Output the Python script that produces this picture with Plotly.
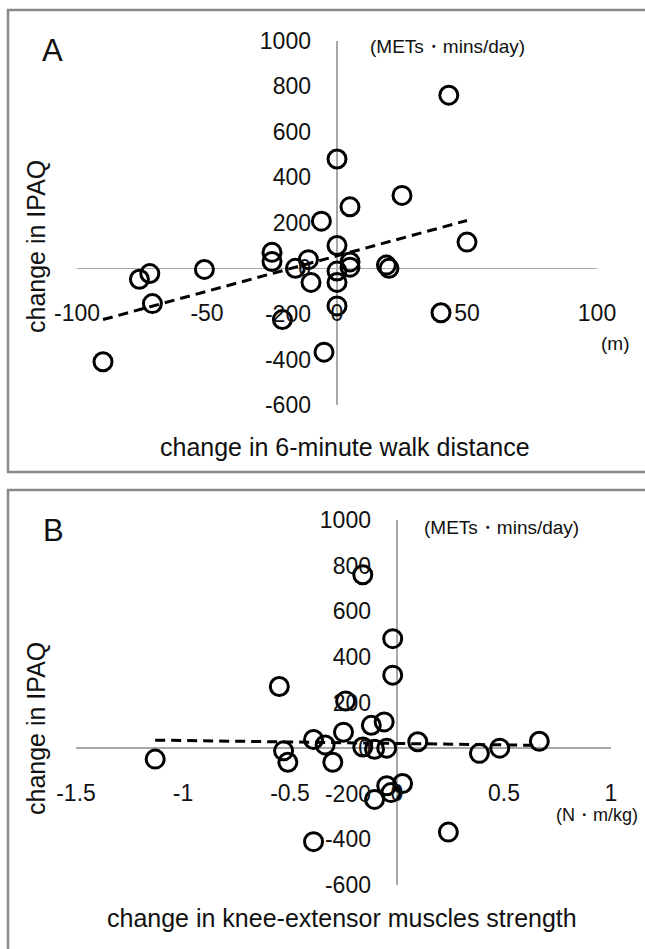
import plotly.graph_objects as go

W, H = 645, 949

# ---------- data ----------
# Panel A: change in 6-minute walk distance (m) vs change in IPAQ
walk_change = [43, 0, 5, 25, -6, 0, -25, -25, -11, -16, -10, 0, 0, 5, 5, 19, 20,
               0, -21, 40, 50, -5, -72, -76, -51, -71, -90]
ipaq_change_a = [760, 480, 270, 320, 207, 100, 70, 30, 38, 0, -62, -12, -62, 28, 5, 14, 0,
                 -165, -225, -195, 115, -368, -23, -48, -5, -155, -410]
trend_a_x = [-90, 50]
trend_a_y = [-225, 210]

# Panel B: change in knee-extensor muscles strength (N·m/kg) vs change in IPAQ
knee_change = [-0.16, -0.02, -0.02, -0.55, -0.24, -0.06, -0.12, -0.25, -0.39, -0.336,
               0.097, 0.665, 0.48, 0.385, -0.16, -0.105, -0.048, -0.53, -0.51, -0.30,
               -1.13, -0.048, -0.028, 0.026, -0.105, 0.24, -0.39]
ipaq_change_b = [760, 480, 320, 270, 207, 115, 100, 70, 38, 14,
                 28, 30, 0, -23, 5, -5, 0, -12, -62, -62,
                 -48, -165, -195, -155, -225, -368, -410]
trend_b_x = [-1.13, 0.665]
trend_b_y = [35, 12]

y_ticks = [-600, -400, -200, 0, 200, 400, 600, 800, 1000]
y_tick_text = ["-600", "-400", "-200", "0", "200", "400", "600", "800", "1000"]
xa_ticks = [-100, -50, 0, 50, 100]
xa_tick_text = ["-100", "-50", "0", "50", "100"]
xb_ticks = [-1.5, -1, -0.5, 0, 0.5, 1]
xb_tick_text = ["-1.5", "-1", "-0.5", "0", "0.5", "1"]

# ---------- helpers (pixel -> paper) ----------
def px(x):
    return x / W

def py(y):
    return 1 - y / H

FONT = "Liberation Sans, Arial, sans-serif"
TXT = "#111111"
marker = dict(symbol="circle-open", size=18, color="black", line=dict(width=3, color="black"))
dash_line = dict(color="black", width=3, dash="10px,6px")

fig = go.Figure()
fig.add_trace(go.Scatter(x=walk_change, y=ipaq_change_a, mode="markers", marker=marker,
                         xaxis="x", yaxis="y", showlegend=False))
fig.add_trace(go.Scatter(x=trend_a_x, y=trend_a_y, mode="lines", line=dash_line,
                         xaxis="x", yaxis="y", showlegend=False))
fig.add_trace(go.Scatter(x=knee_change, y=ipaq_change_b, mode="markers", marker=marker,
                         xaxis="x2", yaxis="y2", showlegend=False))
fig.add_trace(go.Scatter(x=trend_b_x, y=trend_b_y, mode="lines", line=dash_line,
                         xaxis="x2", yaxis="y2", showlegend=False))

tickfont = dict(family=FONT, size=23, color=TXT)
zl = dict(zeroline=True, zerolinecolor="#a8a8a8", zerolinewidth=1.5,
          showgrid=False, showline=False, ticks="")

# Panel geometry (pixels)
A_x0, A_x1, A_y0, A_y1 = 77, 597, 40.5, 405
B_x0, B_x1, B_y0, B_y1 = 76, 611, 520, 885
A_zero_px = A_x0 + (0 - (-100)) / 200 * (A_x1 - A_x0)
B_zero_px = B_x0 + (0 - (-1.5)) / 2.5 * (B_x1 - B_x0)

fig.update_layout(
    width=W, height=H,
    margin=dict(l=0, r=0, t=0, b=0, pad=0, autoexpand=False),
    paper_bgcolor="white", plot_bgcolor="rgba(0,0,0,0)",
    hovermode=False,
    xaxis=dict(domain=[px(A_x0), px(A_x1)], range=[-100, 100], anchor="free",
               position=py(297), tickvals=xa_ticks, ticktext=xa_tick_text,
               tickfont=tickfont, automargin=False, **zl),
    yaxis=dict(domain=[py(A_y1), py(A_y0)], range=[-600, 1000], anchor="free",
               position=px(A_zero_px), tickvals=y_ticks, ticktext=y_tick_text,
               tickfont=tickfont, ticklabelstandoff=26, automargin=False, **zl),
    xaxis2=dict(domain=[px(B_x0), px(B_x1)], range=[-1.5, 1], anchor="free",
                position=py(777), tickvals=xb_ticks, ticktext=xb_tick_text,
                tickfont=tickfont, automargin=False, **zl),
    yaxis2=dict(domain=[py(B_y1), py(B_y0)], range=[-600, 1000], anchor="free",
                position=px(B_zero_px), tickvals=y_ticks, ticktext=y_tick_text,
                tickfont=tickfont, ticklabelstandoff=26, automargin=False, **zl),
)

border = dict(color="#8a8a8a", width=2.5)
fig.add_shape(type="rect", xref="paper", yref="paper", x0=px(8), x1=px(648),
              y0=py(472), y1=py(10), line=border, fillcolor="rgba(0,0,0,0)")
fig.add_shape(type="rect", xref="paper", yref="paper", x0=px(8), x1=px(648),
              y0=py(953), y1=py(490), line=border, fillcolor="rgba(0,0,0,0)")

def ann(text, x, y, size, angle=0, xanchor="center", weight="normal"):
    fig.add_annotation(text=text, x=px(x), y=py(y), xref="paper", yref="paper",
                       showarrow=False, xanchor=xanchor, yanchor="middle",
                       textangle=angle,
                       font=dict(family=FONT, size=size, color=TXT, weight=weight))

title_size = 25
unit_size = 19
# Panel A texts
ann("A", 52, 50, 31)
ann("(METs・mins/day)", 368, 47, unit_size, xanchor="left")
ann("(m)", 615, 343, unit_size)
ann("change in 6-minute walk distance", 345, 447, title_size)
ann("change in IPAQ", 36, 247, title_size, angle=-90)
# Panel B texts
ann("B", 53, 530, 31)
ann("(METs・mins/day)", 422, 527, unit_size, xanchor="left")
ann("(N・m/kg)", 597, 815, 18)
ann("change in knee-extensor muscles strength", 342, 918, title_size)
ann("change in IPAQ", 36, 729, title_size, angle=-90)

fig.write_html(
    "out.html",
    config={"displayModeBar": False, "staticPlot": True},
    post_script="document.body.style.margin='0';document.body.style.overflow='hidden';",
)
